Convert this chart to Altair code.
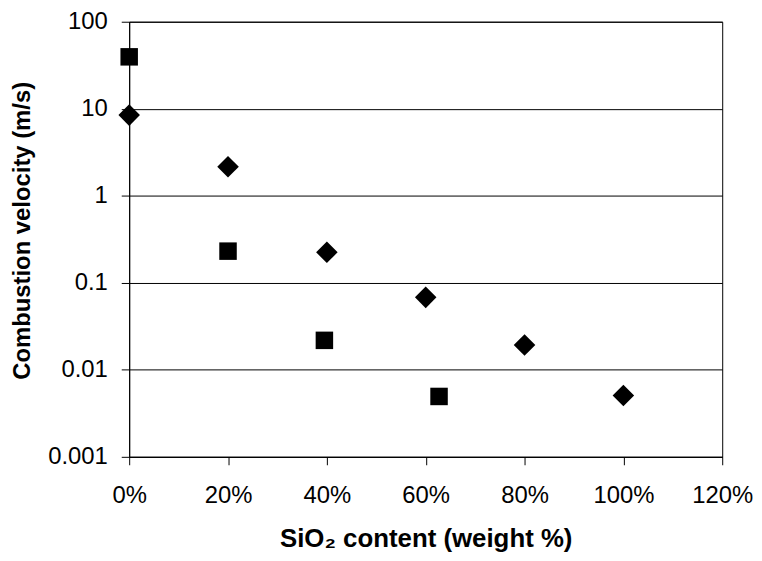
import altair as alt
import pandas as pd

# Series data
square_x = [0.0, 0.20, 0.395, 0.627]
square_y = [39.5, 0.231, 0.0218, 0.00494]
diamond_x = [0.0, 0.20, 0.40, 0.60, 0.80, 1.00]
diamond_y = [8.45, 2.16, 0.224, 0.068, 0.0193, 0.00508]

x_ticks = [0, 0.2, 0.4, 0.6, 0.8, 1.0, 1.2]
y_ticks = [0.001, 0.01, 0.1, 1, 10, 100]

df = pd.DataFrame(
    {
        "x": square_x + diamond_x,
        "y": square_y + diamond_y,
        "series": ["square"] * len(square_x) + ["diamond"] * len(diamond_x),
    }
)

FONT = "Liberation Sans"

xenc = alt.X(
    "x:Q",
    scale=alt.Scale(domain=[0, 1.2], nice=False, zero=False),
    axis=alt.Axis(
        values=x_ticks,
        format=".0%",
        title="SiO₂ content (weight %)",
        grid=False,
        domainColor="#000",
        tickColor="#000",
        tickSize=8,
        labelFontSize=24,
        labelColor="#000",
        labelPadding=19,
        labelFlush=False,
        labelOverlap=False,
        titleFontSize=26,
        titleFontWeight="bold",
        titleColor="#000",
        titlePadding=18,
        labelFont=FONT,
        titleFont=FONT,
    ),
)
yenc = alt.Y(
    "y:Q",
    scale=alt.Scale(type="log", domain=[0.001, 100], nice=False),
    axis=alt.Axis(
        values=y_ticks,
        format="~g",
        title="Combustion velocity (m/s)",
        grid=True,
        gridColor="#000",
        gridOpacity=1,
        gridWidth=1,
        domainColor="#000",
        tickColor="#000",
        tickSize=8,
        labelFontSize=24,
        labelColor="#000",
        labelPadding=14,
        labelFlush=False,
        labelOverlap=False,
        titleFontSize=24,
        titleFontWeight="bold",
        titleColor="#000",
        titlePadding=13,
        titleY=210,
        labelFont=FONT,
        titleFont=FONT,
    ),
)

base = alt.Chart(df)
squares = base.transform_filter(alt.datum.series == "square").mark_point(
    shape="square", filled=True, color="#000", size=310, opacity=1
).encode(x=xenc, y=yenc)
diamonds = base.transform_filter(alt.datum.series == "diamond").mark_point(
    shape="diamond", filled=True, color="#000", size=470, opacity=1
).encode(x=xenc, y=yenc)

chart = (
    alt.layer(squares, diamonds)
    .properties(
        width=597,
        height=438,
        autosize=alt.AutoSizeParams(type="none"),
        padding={"left": 122, "top": 12, "right": 32, "bottom": 95},
        background="white",
    )
    .configure_view(stroke="#000", strokeWidth=1)
)

chart.save("out.html", embed_options={"renderer": "svg", "actions": False})
